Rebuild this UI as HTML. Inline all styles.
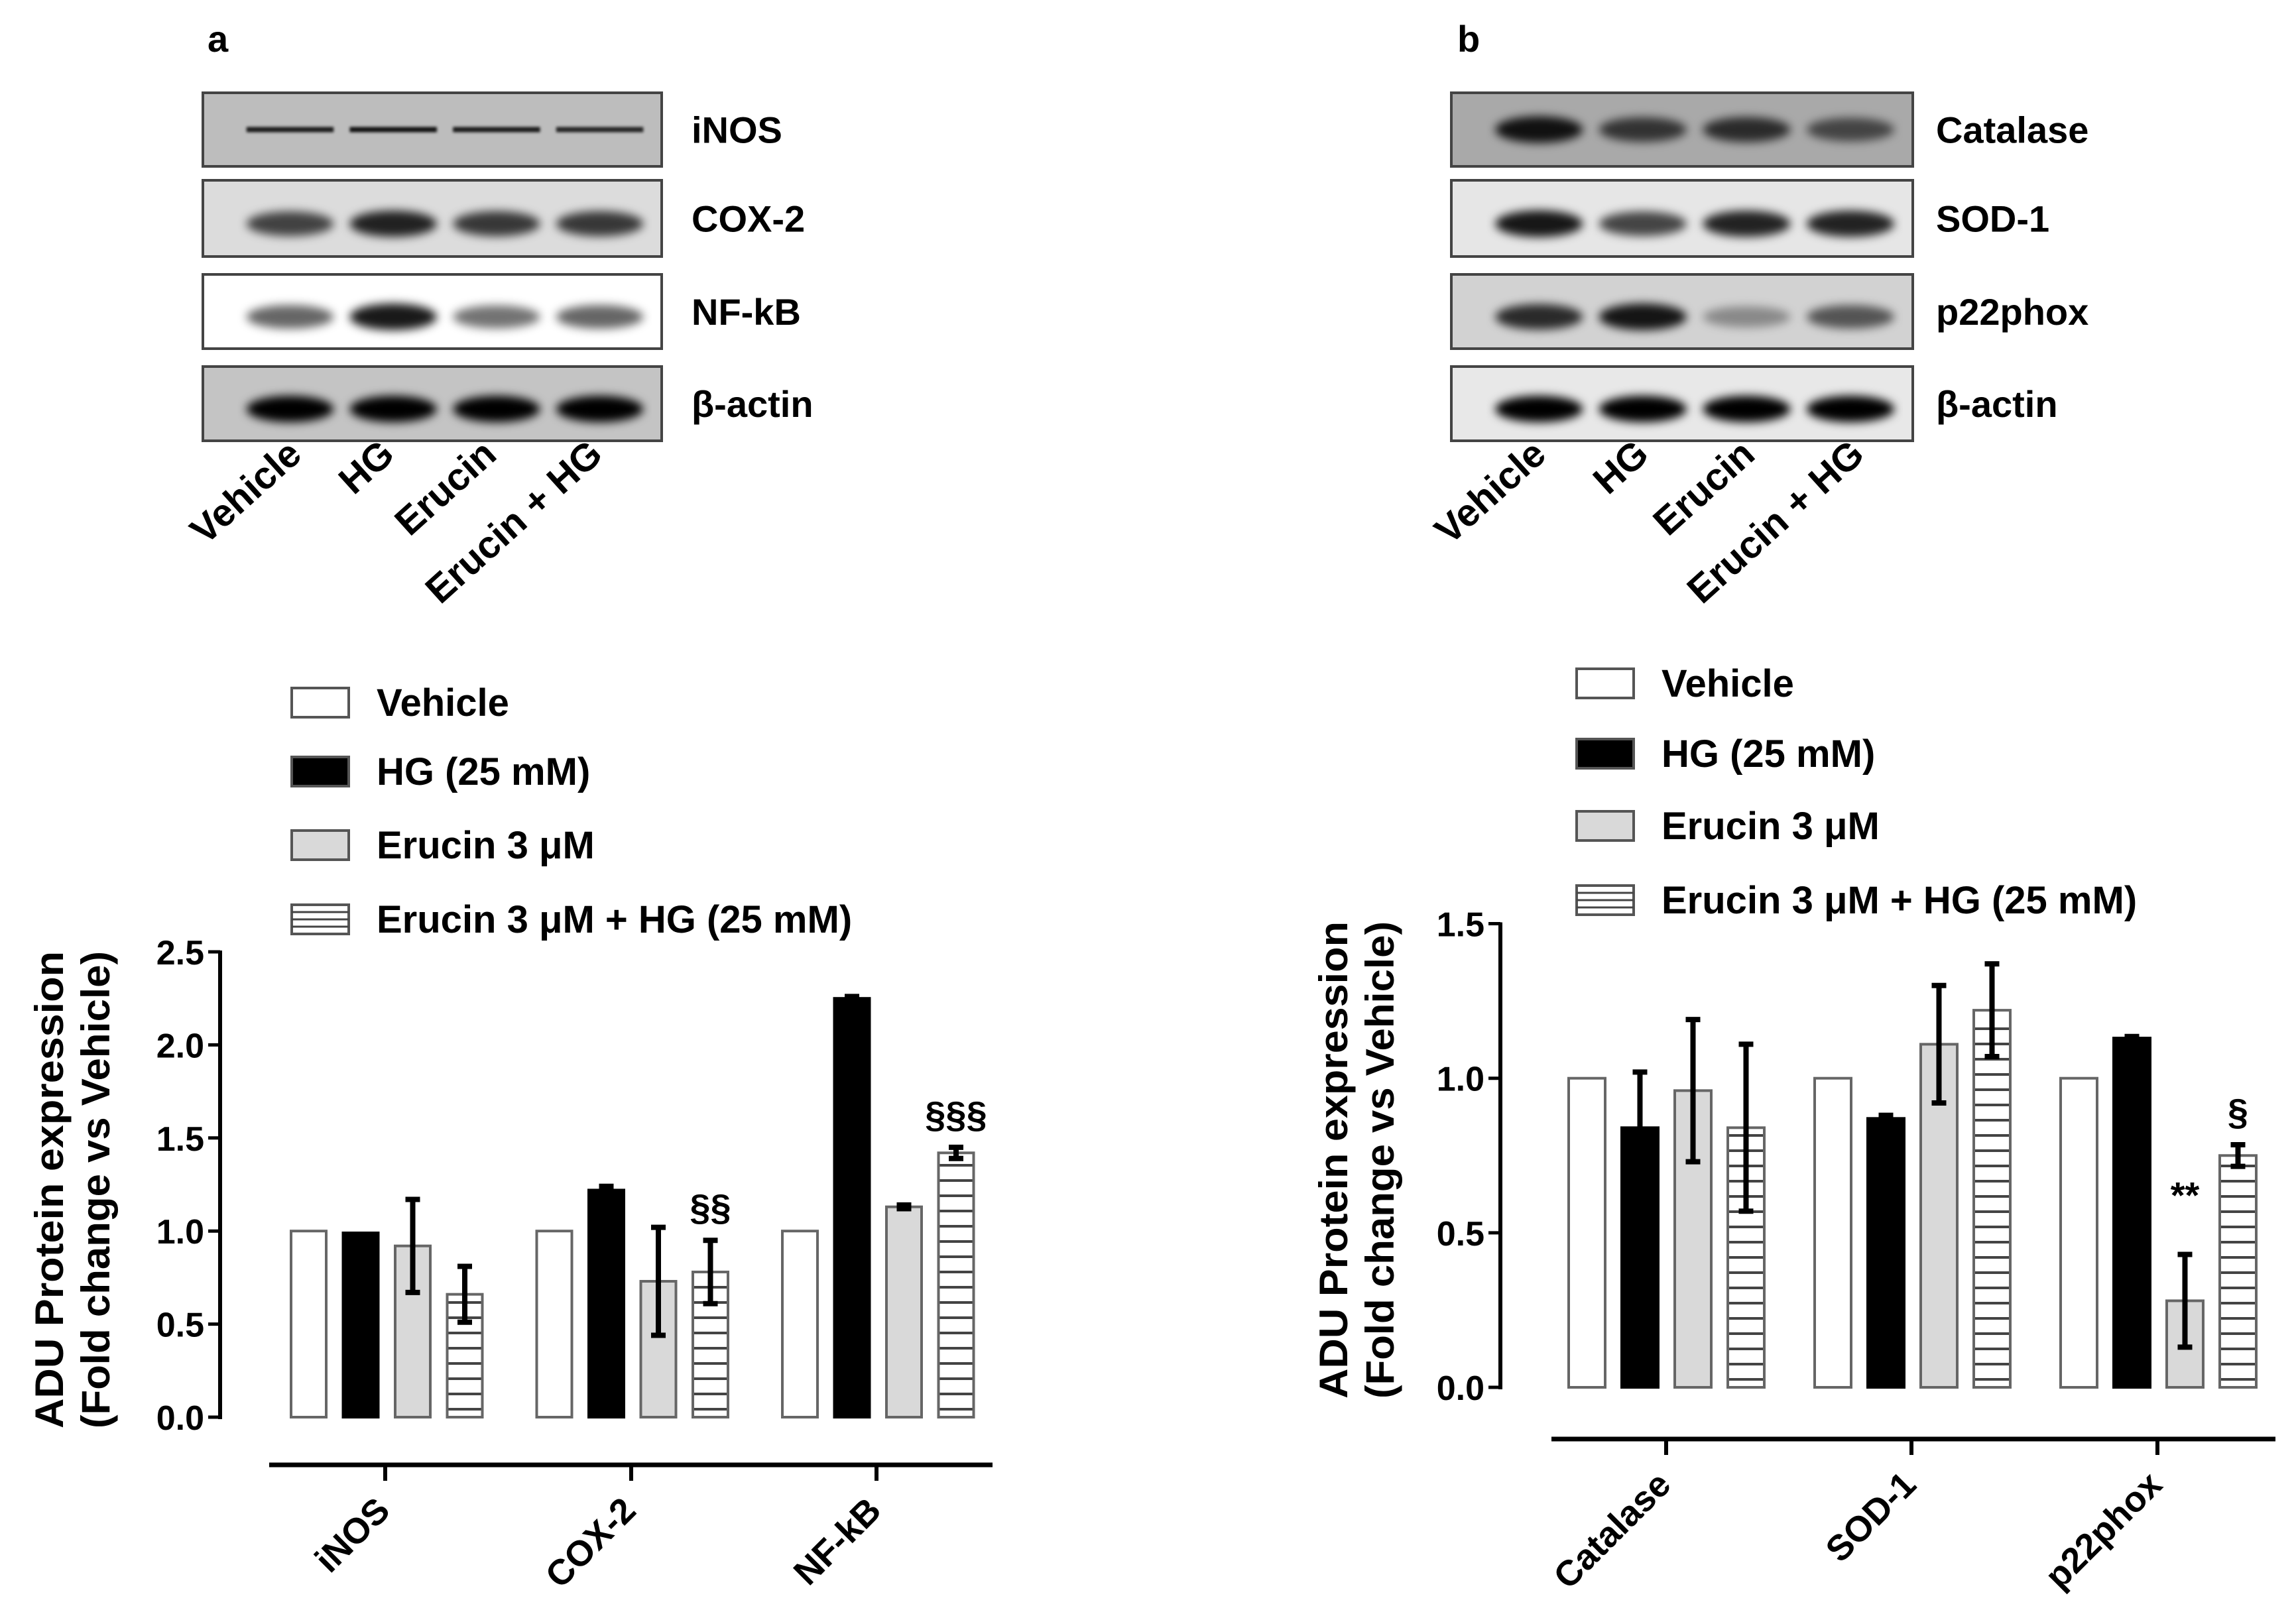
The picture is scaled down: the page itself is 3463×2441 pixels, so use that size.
<!DOCTYPE html>
<html><head><meta charset="utf-8"><style>
html,body{margin:0;padding:0;background:#fff;}
svg{display:block;font-family:"Liberation Sans",Arial,sans-serif;font-weight:bold;}
</style></head><body>
<svg id="fig" width="3463" height="2441" viewBox="0 0 3463 2441" xmlns="http://www.w3.org/2000/svg">
<defs>
<filter id="blur" x="-10%" y="-50%" width="120%" height="200%"><feGaussianBlur stdDeviation="7"/></filter>
<filter id="blur2" x="-10%" y="-100%" width="120%" height="300%"><feGaussianBlur stdDeviation="2"/></filter>
</defs>
<text x="313" y="78" font-size="56">a</text>
<text x="2198" y="78" font-size="56">b</text>
<g id="blots"></g>
<g id="chartA"></g>
<g id="chartB"></g>
</svg>
<script>
// ---------- data ----------
const seriesNames = ["Vehicle","HG (25 mM)","Erucin 3 \u03bcM","Erucin 3 \u03bcM + HG (25 mM)"];
const catsA = ["iNOS","COX-2","NF-kB"];
const vehA = [1.0,1.0,1.0];
const hgA = [0.99,1.22,2.25];
const eruA = [0.92,0.73,1.13];
const ehgA = [0.66,0.78,1.42];
const errVehA = [0,0,0];
const errHgA = [0.0,0.02,0.01];
const errEruA = [0.25,0.29,0.01];
const errEhgA = [0.15,0.17,0.03];
const ticksA = [0,0.5,1.0,1.5,2.0,2.5];
const annotA = [["",""," ",""],["","","","\u00a7\u00a7"],["","","","\u00a7\u00a7\u00a7"]];

const catsB = ["Catalase","SOD-1","p22phox"];
const vehB = [1.0,1.0,1.0];
const hgB = [0.84,0.87,1.13];
const eruB = [0.96,1.11,0.28];
const ehgB = [0.84,1.22,0.75];
const errVehB = [0,0,0];
const errHgB = [0.18,0.01,0.005];
const errEruB = [0.23,0.19,0.15];
const errEhgB = [0.27,0.15,0.035];
const ticksB = [0,0.5,1.0,1.5];
const annotB = [["","","",""],["","","",""],["","","**","\u00a7"]];

const blotLanes = ["Vehicle","HG","Erucin","Erucin + HG"];
const blotLabelsA = ["iNOS","COX-2","NF-kB","\u03b2-actin"];
const blotLabelsB = ["Catalase","SOD-1","p22phox","\u03b2-actin"];

const NS = "http://www.w3.org/2000/svg";
function mk(parent, tag, attrs, txt){
  const e = document.createElementNS(NS, tag);
  for (const k in attrs) e.setAttribute(k, attrs[k]);
  if (txt !== undefined) e.textContent = txt;
  parent.appendChild(e);
  return e;
}

// ---------- blots ----------
const blots = document.getElementById('blots');
function drawBlot(x0, labels, bgs, intens, labelX, laneCx, thinFirst){
  const rows = [[140,251],[272,387],[414,526],[553,665]];
  const w = (x0 < 1000) ? 692 : 696;
  rows.forEach((r,i)=>{
    const g = mk(blots,'g',{});
    
    
    mk(g,'rect',{x:x0,y:r[0],width:w,height:r[1]-r[0],fill:bgs[i],stroke:'#444','stroke-width':4});
    const cy = (r[0]+r[1])/2 + (i===0?0:8);
    for (let l=0;l<4;l++){
      const cx = x0 + w*(0.19 + l*0.225);
      const it = intens[i][l];
      if (i===0 && thinFirst){
        mk(g,'rect',{x:cx-w*0.095,y:cy-4,width:w*0.19,height:8,fill:'#000','fill-opacity':it,filter:'url(#blur2)'});
        continue;
      }
      const h = i===3 ? 40 : 26;
      mk(g,'ellipse',{cx:cx,cy:cy,rx:w*0.095,ry:h/2 + (i===3?0:it*8),fill:'#000','fill-opacity':it,filter:'url(#blur)'});
    }
    const t = mk(g,'text',{x:labelX,y:(r[0]+r[1])/2+20,'font-size':56},labels[i]);
    
    
  });
  laneCx.forEach((cx,l)=>{
    const t = mk(blots,'text',{x:cx,y:690,'font-size':58,'text-anchor':'end',transform:`rotate(-42 ${cx} 690)`},blotLanes[l]);
    
    
  });
}
drawBlot(306, blotLabelsA, ['#bdbdbd','#dcdcdc','#ffffff','#c4c4c4'],
  [[0.85,0.9,0.85,0.8],[0.7,0.85,0.75,0.75],[0.6,0.9,0.55,0.6],[1,1,1,1]], 1043, [458,598,752,912], true);
drawBlot(2189, blotLabelsB, ['#a9a9a9','#e6e6e6','#d2d2d2','#e8e8e8'],
  [[0.9,0.7,0.75,0.6],[0.9,0.7,0.85,0.85],[0.8,0.9,0.35,0.6],[1,1,1,1]], 2920, [2335,2490,2650,2815], false);

// ---------- charts ----------
function drawChart(gid, cfg){
  const g = document.getElementById(gid);
  const vals = [cfg.veh, cfg.hg, cfg.eru, cfg.ehg];
  const errs = [cfg.eVeh, cfg.eHg, cfg.eEru, cfg.eEhg];
  const y = v => cfg.y0 - v*cfg.unit;
  const xb = (c,s) => cfg.gx0 + c*cfg.gsp + s*cfg.stride;
  seriesNames.forEach((n,s)=>{
    const lg = mk(g,'g',{});
    
    
    const ly = cfg.legY[s];
    const fills = ['#fff','#000','#d9d9d9','#fff'];
    mk(lg,'rect',{x:cfg.legX,y:ly-22,width:86,height:44,fill:fills[s],stroke:'#555','stroke-width':4});
    if (s===3){ for (let k=1;k<4;k++) mk(lg,'line',{x1:cfg.legX,x2:cfg.legX+86,y1:ly-22+k*11,y2:ly-22+k*11,stroke:'#444','stroke-width':3}); }
    mk(lg,'text',{x:cfg.legX+128,y:ly+20,'font-size':58},n);
  });
  const ax = mk(g,'line',{x1:cfg.ax,x2:cfg.ax,y1:y(cfg.ticks[cfg.ticks.length-1])-2,y2:y(0)+3,stroke:'#000','stroke-width':6});
   
  cfg.ticks.forEach(t=>{
    mk(g,'line',{x1:cfg.ax-18,x2:cfg.ax,y1:y(t),y2:y(t),stroke:'#000','stroke-width':5});
    const tl = mk(g,'text',{x:cfg.ax-24,y:y(t)+19,'font-size':52,'text-anchor':'end'},t.toFixed(1));
     
  });
  const tt = mk(g,'text',{x:cfg.tx1,y:cfg.tcy,'font-size':60,'text-anchor':'middle',transform:`rotate(-90 ${cfg.tx1} ${cfg.tcy})`,textLength:720,lengthAdjust:'spacingAndGlyphs'},'ADU Protein expression');
   
  const tt2 = mk(g,'text',{x:cfg.tx2,y:cfg.tcy,'font-size':60,'text-anchor':'middle',transform:`rotate(-90 ${cfg.tx2} ${cfg.tcy})`,textLength:720,lengthAdjust:'spacingAndGlyphs'},'(Fold change vs  Vehicle)');
   
  cfg.cats.forEach((c,ci)=>{
    for (let s=0;s<4;s++){
      const v = vals[s][ci], x = xb(ci,s);
      const bg = mk(g,'g',{});
      
      
      const fills = ['#fff','#000','#d9d9d9','#fff'];
      mk(bg,'rect',{x:x,y:y(v),width:cfg.bw,height:y(0)-y(v),fill:fills[s],stroke:s===1?'#000':'#666','stroke-width':4});
      if (s===3){
        for (let yy=y(0)-12; yy>y(v)+6; yy-=23) mk(bg,'line',{x1:x+2,x2:x+cfg.bw-2,y1:yy,y2:yy,stroke:'#444','stroke-width':4});
      }
      const e = errs[s][ci];
      if (e>0){
        const cx = x+cfg.bw/2;
        mk(bg,'line',{x1:cx,x2:cx,y1:y(v+e),y2:y(v-e),stroke:'#000','stroke-width':8});
        mk(bg,'line',{x1:cx-11,x2:cx+11,y1:y(v+e),y2:y(v+e),stroke:'#000','stroke-width':8});
        mk(bg,'line',{x1:cx-11,x2:cx+11,y1:y(v-e),y2:y(v-e),stroke:'#000','stroke-width':8});
      }
      const a = cfg.annot[ci][s];
      if (a.trim()){
        const at = mk(g,'text',{x:x+cfg.bw/2,y:y(v+e)-(a==='**'?70:30),'font-size':56,'text-anchor':'middle'},a);
         
      }
    }
    const tx = cfg.catTick[ci];
    mk(g,'line',{x1:tx,x2:tx,y1:cfg.xaY,y2:cfg.xaY+24,stroke:'#000','stroke-width':6});
    const cl = mk(g,'text',{x:tx+10,y:cfg.xaY+72,'font-size':54,'text-anchor':'end',transform:`rotate(-45 ${tx+10} ${cfg.xaY+72})`},c);
     
  });
  const xa = mk(g,'line',{x1:cfg.xa1,x2:cfg.xa2,y1:cfg.xaY,y2:cfg.xaY,stroke:'#000','stroke-width':7});
   
}
drawChart('chartA',{cats:catsA,veh:vehA,hg:hgA,eru:eruA,ehg:ehgA,eVeh:errVehA,eHg:errHgA,eEru:errEruA,eEhg:errEhgA,
  ticks:ticksA,annot:annotA,y0:2138,unit:280.8,gx0:439,gsp:370.5,stride:78.5,bw:53,ax:332,
  legX:440,legY:[1060,1164,1275,1387],tx1:95,tx2:165,tcy:1795,catTick:[581,952,1322],xaY:2210,xa1:406,xa2:1497});
drawChart('chartB',{cats:catsB,veh:vehB,hg:hgB,eru:eruB,ehg:ehgB,eVeh:errVehB,eHg:errHgB,eEru:errEruB,eEhg:errEhgB,
  ticks:ticksB,annot:annotB,y0:2093,unit:466.3,gx0:2366,gsp:371,stride:80,bw:55,ax:2263,
  legX:2378,legY:[1031,1137,1246,1358],tx1:2032,tx2:2102,tcy:1750,catTick:[2513,2883,3254],xaY:2171,xa1:2340,xa2:3432});
</script>
</body></html>
